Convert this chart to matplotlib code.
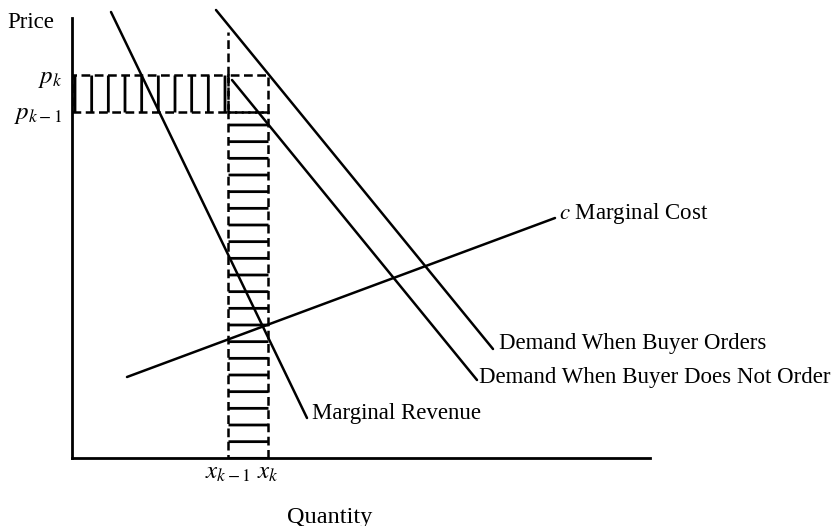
import matplotlib
matplotlib.use("Agg")
import matplotlib.pyplot as plt
from matplotlib.patches import Rectangle

plt.rcParams["font.family"] = ["Liberation Serif", "DejaVu Serif"]
plt.rcParams["mathtext.fontset"] = "stix"
plt.rcParams["hatch.linewidth"] = 2.0

# axis extents (quantity, price)
q_max = 57.8
p_max = 44.0

# step quantities and prices
x_km1 = 15.6
x_k = 19.6
p_km1 = 34.6
p_k = 38.3
x_top = 42.6  # top of the dashed x_{k-1} guide

x_tick_labels = [r"$x_{k-1}$", r"$x_k$"]
y_tick_labels = [r"$p_{k-1}$", r"$p_k$"]

# curves: [q_start, q_end], [p_start, p_end]
mr_q = [3.9, 23.5]
mr_p = [44.6, 4.0]
d_order_q = [14.4, 42.1]
d_order_p = [44.8, 10.9]
d_no_order_q = [16.0, 40.5]
d_no_order_p = [37.8, 7.8]
mc_q = [5.5, 48.3]
mc_p = [8.1, 24.0]

fig = plt.figure(figsize=(8.36, 5.26), dpi=100)
ax = fig.add_axes([72 / 836, 68 / 526, 578 / 836, 440 / 526])
ax.set_xlim(0, q_max)
ax.set_ylim(0, p_max)

for side in ("top", "right"):
    ax.spines[side].set_visible(False)
for side in ("left", "bottom"):
    ax.spines[side].set_linewidth(2.0)

dash = (0, (3.5, 1.8))
lw = 1.8

# hatched strips
ax.add_patch(Rectangle((0, p_km1), x_km1, p_k - p_km1, fill=False, hatch="|",
                       edgecolor="black", linewidth=lw, linestyle=dash))
ax.add_patch(Rectangle((x_km1, 0), x_k - x_km1, p_km1, fill=False, hatch="-",
                       edgecolor="black", linewidth=lw, linestyle=dash))
ax.add_patch(Rectangle((x_km1, p_km1), x_k - x_km1, p_k - p_km1, fill=False,
                       edgecolor="black", linewidth=lw, linestyle=dash))
ax.plot([x_km1, x_km1], [p_k, x_top], color="black", lw=lw, ls=dash)

line_kw = dict(color="black", lw=lw, clip_on=False, solid_capstyle="round")
ax.plot(mr_q, mr_p, **line_kw)
ax.plot(d_order_q, d_order_p, **line_kw)
ax.plot(d_no_order_q, d_no_order_p, **line_kw)
ax.plot(mc_q, mc_p, **line_kw)

fs = 16.5
ax.text(mc_q[1] + 0.4, mc_p[1] + 0.4, r"$c$ Marginal Cost", fontsize=fs, ha="left", va="center")
ax.text(d_order_q[1] + 0.6, d_order_p[1] + 0.5, "Demand When Buyer Orders", fontsize=fs, ha="left", va="center")
ax.text(d_no_order_q[1] + 0.2, d_no_order_p[1] + 0.2, "Demand When Buyer Does Not Order", fontsize=fs, ha="left", va="center")
ax.text(mr_q[1] + 0.5, mr_p[1] + 0.5, "Marginal Revenue", fontsize=fs, ha="left", va="center")

ax.set_xticks([x_km1, x_k])
ax.set_xticklabels(x_tick_labels, fontsize=18)
ax.set_yticks([p_km1, p_k])
ax.set_yticklabels(y_tick_labels, fontsize=18)
ax.tick_params(axis="x", length=0, pad=3)
ax.tick_params(axis="y", length=0, pad=7)

ax.text(-6.5, 43.5, "Price", fontsize=fs, ha="left", va="center")
ax.text(25.8, -5.9, "Quantity", fontsize=17.5, ha="center", va="center")

fig.savefig("out.png", dpi=100)
